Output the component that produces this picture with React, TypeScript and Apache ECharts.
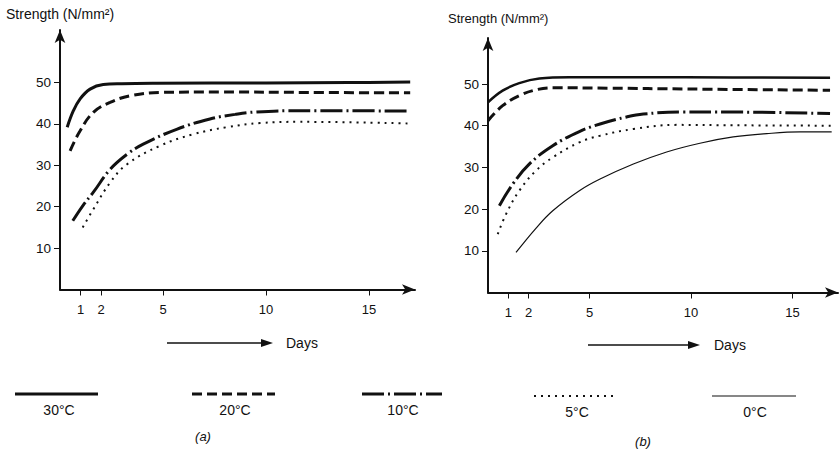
import React, { useEffect, useRef } from "react";
import * as echarts from "echarts";

// Days ticks and strength ticks
const dayTicks = [1, 2, 5, 10, 15];
const strengthTicks = [10, 20, 30, 40, 50];

// Chart (a): [day, strength N/mm²]
const a30: number[][] = [[0.35, 39.2], [0.65, 43.2], [0.97, 46.0], [1.46, 48.4], [2.1, 49.5], [3, 49.7], [4.7, 49.8], [10, 49.9], [14, 50.0], [17, 50.1]];
const a20: number[][] = [[0.49, 33.5], [0.97, 38.3], [1.62, 42.8], [2.43, 45.2], [3.4, 46.8], [4.85, 47.6], [7.8, 47.7], [12, 47.6], [17, 47.5]];
const a10: number[][] = [[0.62, 16.6], [1.13, 20.4], [1.62, 23.5], [2.43, 29.0], [3.24, 32.6], [4.04, 35.1], [5.66, 38.7], [7.28, 41.2], [8.5, 42.3], [9.55, 42.9], [11.65, 43.2], [17, 43.1]];
const a5: number[][] = [[1.1, 15.0], [1.62, 19.4], [2.43, 25.8], [3.24, 30.2], [4.85, 34.7], [6.47, 37.5], [8.09, 39.2], [9.71, 40.2], [11.65, 40.5], [17, 40.1]];

// Chart (b)
const b30: number[][] = [[0.0, 45.6], [0.72, 48.4], [1.54, 50.2], [2.53, 51.3], [4, 51.6], [9.75, 51.6], [16.85, 51.5]];
const b20: number[][] = [[0.0, 41.2], [0.72, 44.8], [1.54, 47.2], [2.36, 48.6], [3.19, 49.1], [6, 49.0], [9.75, 48.8], [16.85, 48.5]];
const b10: number[][] = [[0.56, 20.8], [1.22, 26.0], [2.03, 30.8], [3.19, 35.2], [4.5, 38.6], [5.52, 40.4], [6.83, 42.1], [7.65, 42.8], [9.62, 43.3], [11.27, 43.3], [16.85, 42.9]];
const b5: number[][] = [[0.48, 14.0], [0.89, 18.8], [1.54, 24.4], [2.36, 29.2], [3.19, 32.4], [4.5, 36.0], [5.52, 37.6], [7.16, 39.2], [9.3, 40.2], [12.08, 40.1], [17, 40.0]];
const b0: number[][] = [[1.38, 9.6], [2.36, 15.4], [3.19, 19.6], [4.5, 24.4], [5.52, 27.2], [7.16, 30.8], [8.8, 33.7], [10.44, 35.8], [12.08, 37.3], [13.73, 38.1], [15.37, 38.5], [16.93, 38.5]];

const legendLabels = ["30°C", "20°C", "10°C", "5°C", "0°C"];
const axisTitle = "Strength (N/mm²)";

const FONT = "'Liberation Sans', Arial, sans-serif";
const INK = "#111";

const styles: any[] = [
  { type: "solid", width: 3 },
  { type: [10, 5], width: 3 },
  { type: [22, 4, 2, 4], width: 3 },
  { type: [2, 5], width: 2 },
  { type: "solid", width: 1.2 },
];

function xAxisCfg(gridIndex: number, max: number) {
  return {
    type: "value",
    gridIndex,
    min: 0,
    max,
    axisLine: {
      show: true,
      onZero: false,
      symbol: ["none", "arrow"],
      symbolSize: [8, 13],
      lineStyle: { color: INK, width: 2 },
    },
    axisTick: { show: true, customValues: dayTicks, length: 6, lineStyle: { color: INK, width: 1 } },
    axisLabel: { customValues: dayTicks, color: INK, fontSize: 13, fontFamily: FONT, margin: 13 },
    splitLine: { show: false },
  };
}

function yAxisCfg(gridIndex: number, max: number) {
  return {
    type: "value",
    gridIndex,
    min: 0,
    max,
    axisLine: {
      show: true,
      onZero: false,
      symbol: ["none", "arrow"],
      symbolSize: [8, 13],
      lineStyle: { color: INK, width: 2 },
    },
    axisTick: { show: true, customValues: strengthTicks, length: 6, lineStyle: { color: INK, width: 1 } },
    axisLabel: { customValues: strengthTicks, color: INK, fontSize: 13.5, fontFamily: FONT, margin: 9 },
    splitLine: { show: false },
  };
}

function lineSeries(data: number[][], idx: number, styleIdx: number, widthOverride?: number) {
  const st = styles[styleIdx];
  return {
    type: "line",
    xAxisIndex: idx,
    yAxisIndex: idx,
    data,
    smooth: 0.4,
    showSymbol: false,
    silent: true,
    lineStyle: { color: INK, width: widthOverride ?? st.width, type: st.type, cap: "butt" },
  };
}

const legendPos = [
  { x1: 15, x2: 98, y: 394, tx: 59, ty: 410 },
  { x1: 192, x2: 275, y: 394, tx: 235, ty: 410 },
  { x1: 362, x2: 442, y: 394, tx: 403, ty: 410 },
  { x1: 534, x2: 614, y: 396, tx: 577, ty: 412 },
  { x1: 712, x2: 796, y: 396, tx: 755, ty: 412 },
];

export default function App() {
  const ref = useRef<HTMLDivElement>(null);
  useEffect(() => {
    if (!ref.current) return;
    const chart = echarts.init(ref.current, undefined, { renderer: "svg" });

    const graphics: any[] = [];
    // axis titles
    graphics.push({ type: "text", left: 6, top: 7, style: { text: axisTitle, fill: INK, fontSize: 14, fontFamily: FONT } });
    graphics.push({ type: "text", left: 448, top: 12, style: { text: axisTitle, fill: INK, fontSize: 13, fontFamily: FONT } });
    // Days arrows
    const arrows = [
      { x1: 167, x2: 273, y: 343, tx: 286 },
      { x1: 588, x2: 700, y: 345, tx: 714 },
    ];
    arrows.forEach((a) => {
      graphics.push({ type: "line", shape: { x1: a.x1, y1: a.y, x2: a.x2 - 10, y2: a.y }, style: { stroke: INK, lineWidth: 1.5 } });
      graphics.push({
        type: "polygon",
        shape: { points: [[a.x2 - 12, a.y - 4], [a.x2, a.y], [a.x2 - 12, a.y + 4]] },
        style: { fill: INK },
      });
      graphics.push({ type: "text", x: a.tx, y: a.y, style: { text: "Days", fill: INK, fontSize: 14, fontFamily: FONT, verticalAlign: "middle" } });
    });
    // legend samples
    legendPos.forEach((p, i) => {
      const st = styles[i];
      graphics.push({
        type: "line",
        shape: { x1: p.x1, y1: p.y, x2: p.x2, y2: p.y },
        style: { stroke: INK, lineWidth: st.width, lineDash: Array.isArray(st.type) ? st.type : null },
      });
      graphics.push({
        type: "text",
        x: p.tx,
        y: p.ty,
        style: { text: legendLabels[i], fill: INK, fontSize: 14, fontFamily: FONT, align: "center", verticalAlign: "middle" },
      });
    });
    graphics.push({ type: "text", x: 203, y: 436, style: { text: "(a)", fill: INK, fontSize: 13, fontFamily: FONT, align: "center", verticalAlign: "middle", fontStyle: "italic" } });
    graphics.push({ type: "text", x: 643, y: 441, style: { text: "(b)", fill: INK, fontSize: 13, fontFamily: FONT, align: "center", verticalAlign: "middle", fontStyle: "italic" } });

    chart.setOption({
      animation: false,
      backgroundColor: "#ffffff",
      grid: [
        { left: 60, top: 30, width: 355, height: 259.5 },
        { left: 488, top: 38, width: 350, height: 254.5 },
      ],
      xAxis: [xAxisCfg(0, 355 / 20.6), xAxisCfg(1, 350 / 20.3)],
      yAxis: [yAxisCfg(0, 259.5 / 4.14), yAxisCfg(1, 254.5 / 4.17)],
      series: [
        lineSeries(a30, 0, 0),
        lineSeries(a20, 0, 1),
        lineSeries(a10, 0, 2),
        lineSeries(a5, 0, 3),
        lineSeries(b30, 1, 0, 2.5),
        lineSeries(b20, 1, 1),
        lineSeries(b10, 1, 2),
        lineSeries(b5, 1, 3),
        lineSeries(b0, 1, 4),
      ],
      graphic: graphics,
    });
    return () => chart.dispose();
  }, []);
  return <div ref={ref} style={{ position: "fixed", left: 0, top: 0, width: 840, height: 452, background: "#fff" }} />;
}
